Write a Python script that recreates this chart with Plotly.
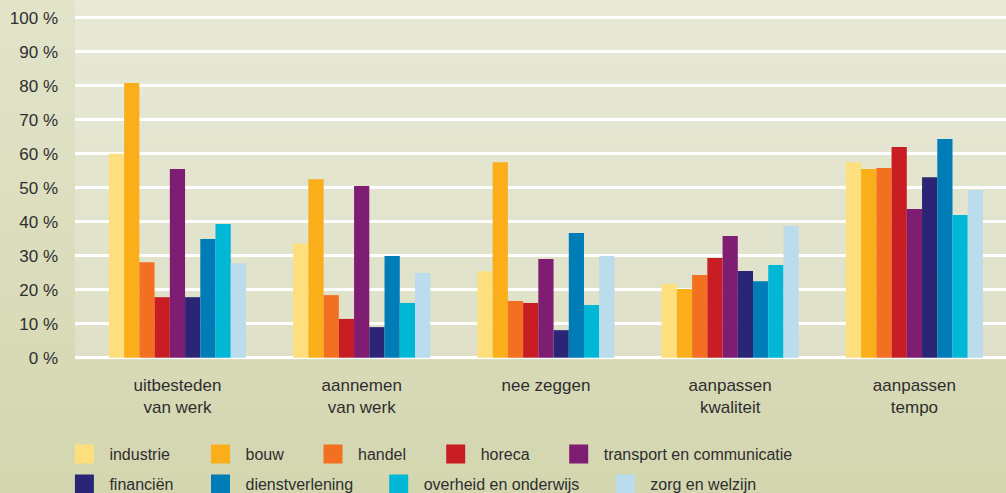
import plotly.graph_objects as go

categories = ["uitbesteden<br>van werk", "aannemen<br>van werk", "nee zeggen",
              "aanpassen<br>kwaliteit", "aanpassen<br>tempo"]

sectors = ["industrie", "bouw", "handel", "horeca", "transport en communicatie",
           "financiën", "dienstverlening", "overheid en onderwijs", "zorg en welzijn"]

industrie = [60.0, 33.6, 25.4, 21.7, 57.5]
bouw = [80.8, 52.5, 57.5, 20.2, 55.5]
handel = [28.1, 18.4, 16.7, 24.3, 55.8]
horeca = [17.8, 11.4, 16.1, 29.3, 62.0]
transport = [55.5, 50.5, 29.0, 35.8, 43.7]
financien = [17.8, 9.0, 8.1, 25.5, 53.1]
dienstverlening = [34.9, 29.9, 36.7, 22.5, 64.3]
overheid = [39.3, 16.1, 15.5, 27.3, 42.0]
zorg = [27.8, 24.9, 29.9, 38.7, 49.3]

series = [industrie, bouw, handel, horeca, transport, financien, dienstverlening, overheid, zorg]

colors = ["#FDDF7E", "#F9AE1A", "#F37021", "#C91D24", "#7F1D72",
          "#2A2675", "#007DB6", "#00B7D6", "#BADCEC"]

y_ticks = list(range(0, 101, 10))
y_ticklabels = [f"{v} %" for v in y_ticks]

W, H = 1006, 493
ML, MR, MT, MB = 75, 0, 0, 134
PW, PH = W - ML - MR, H - MT - MB

FONT = "Liberation Sans, Arial, sans-serif"
TXT = "#2e2e2e"

fig = go.Figure()
for name, vals, col in zip(sectors, series, colors):
    fig.add_trace(go.Bar(name=name, x=categories, y=vals, marker=dict(color=col, line=dict(width=0)),
                         showlegend=False))

# legend entries (one legend per entry, laid out as in the reference)
leg_pos = [(84.4, 454), (220.5, 454), (333, 454), (455.7, 454), (578.7, 454),
           (84.4, 484), (220.5, 484), (398.7, 484), (625.3, 484)]
layout_legends = {}
for i, (name, col, (cx, cy)) in enumerate(zip(sectors, colors, leg_pos)):
    lid = "legend" if i == 0 else f"legend{i+1}"
    fig.add_trace(go.Scatter(name=name, x=[None], y=[None], mode="markers",
                             marker=dict(symbol="square", size=19, color=col,
                                         line=dict(color=col, width=3)),
                             legend=lid, showlegend=True))
    layout_legends[lid] = dict(
        x=(cx - 25 - ML) / PW, xanchor="left",
        y=(PH - (cy - MT)) / PH, yanchor="middle",
        bgcolor="rgba(0,0,0,0)", borderwidth=0, itemwidth=40,
        font=dict(family=FONT, size=16, color=TXT),
        orientation="h", itemclick=False, itemdoubleclick=False,
    )

# background gradients (paper and plot area)
shapes = []
nb = 30
def lerp(c1, c2, t):
    a = [int(c1[i:i+2], 16) for i in (1, 3, 5)]
    b = [int(c2[i:i+2], 16) for i in (1, 3, 5)]
    return "rgb(%d,%d,%d)" % tuple(round(a[k] + (b[k] - a[k]) * t) for k in range(3))
py0, py1 = -MB / PH, 1 + MT / PH
for k in range(nb):
    y1 = py1 - (py1 - py0) * k / nb
    y0 = py1 - (py1 - py0) * (k + 1) / nb
    shapes.append(dict(type="rect", xref="paper", yref="paper", x0=-ML / PW, x1=1,
                       y0=y0 - 0.002, y1=y1, layer="below", line=dict(width=0),
                       fillcolor=lerp("#e2e4ca", "#d4d6b0", (k + 0.5) / nb)))
for k in range(nb):
    y1 = 1 - k / nb
    y0 = 1 - (k + 1) / nb
    shapes.append(dict(type="rect", xref="paper", yref="paper", x0=0, x1=1,
                       y0=y0 - 0.002, y1=y1, layer="below", line=dict(width=0),
                       fillcolor=lerp("#e8e9d6", "#dfe0c7", (k + 0.5) / nb)))

fig.update_layout(
    width=W, height=H,
    margin=dict(l=ML, r=MR, t=MT, b=MB, pad=0, autoexpand=False),
    paper_bgcolor="#dcdebf", plot_bgcolor="rgba(0,0,0,0)",
    barmode="group", bargap=0.256, bargroupgap=0,
    font=dict(family=FONT, size=17, color=TXT),
    shapes=shapes,
    xaxis=dict(type="category", range=[-0.556, 4.497], showgrid=False, zeroline=False,
               showline=False, ticks="", ticklabelstandoff=14,
               tickfont=dict(family=FONT, size=17, color=TXT)),
    yaxis=dict(range=[-0.38, 105.2], tickvals=y_ticks, ticktext=y_ticklabels,
               showgrid=True, gridcolor="#ffffff", gridwidth=2.5, zeroline=False,
               showline=False, ticks="", ticklabelstandoff=16,
               tickfont=dict(family=FONT, size=17, color=TXT)),
    **layout_legends,
)

fig.write_html("out.html", config={"displayModeBar": False},
               post_script="document.body.style.margin='0';document.body.style.overflow='hidden';")
